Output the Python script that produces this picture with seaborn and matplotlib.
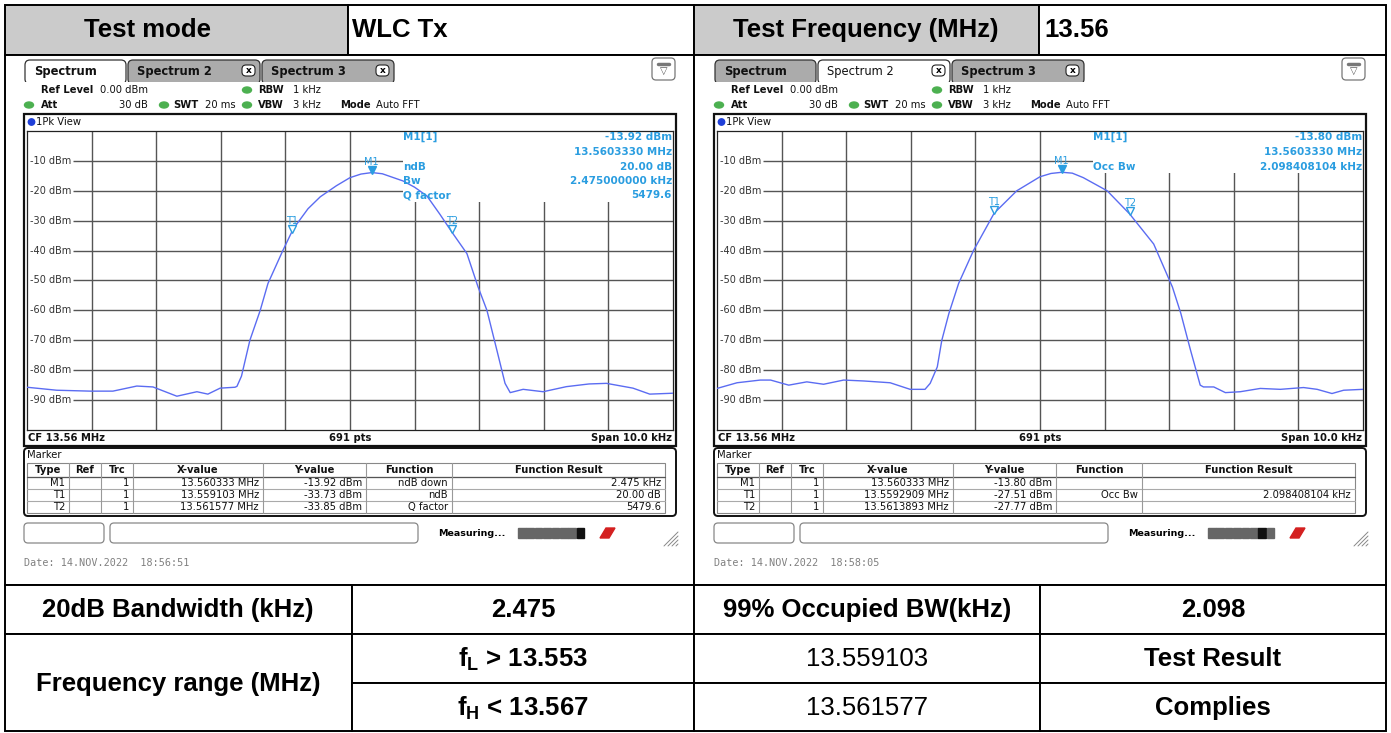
import matplotlib.pyplot as plt
import matplotlib.patches as mpatches
import matplotlib.transforms as mtransforms
import numpy as np
import pandas as pd
import seaborn as sns

# trace readings, offset from CF 13.56 MHz in kHz and level in dBm
left_offset_khz = [-5.0, -4.54, -4.02, -3.67, -3.30, -3.05, -2.68, -2.37, -2.20, -2.01,
                   -1.78, -1.75, -1.68, -1.55, -1.39, -1.27, -1.04, -0.90, -0.82, -0.65,
                   -0.46, -0.21, 0.0, 0.17, 0.34, 0.50, 0.82, 1.00, 1.19, 1.39, 1.58,
                   1.81, 1.98, 2.12, 2.27, 2.40, 2.48, 2.68, 2.99, 3.35, 3.70, 3.97,
                   4.38, 4.64, 5.0]
left_level_dbm = [-85.7, -86.7, -87.0, -87.0, -85.3, -85.6, -88.7, -87.2, -88.0, -86.0,
                  -85.7, -85.4, -82.0, -70.0, -60.0, -51.0, -40.0, -33.7, -31.0, -26.0,
                  -22.0, -18.3, -15.6, -14.4, -13.9, -14.3, -16.7, -18.8, -21.7, -27.8,
                  -33.9, -41.0, -52.0, -60.0, -73.0, -84.4, -87.5, -86.4, -87.2, -85.5,
                  -84.6, -84.4, -86.0, -88.0, -87.7]

right_offset_khz = [-5.0, -4.69, -4.33, -4.17, -3.89, -3.61, -3.35, -3.04, -2.73, -2.32,
                    -2.01, -1.78, -1.70, -1.59, -1.52, -1.41, -1.26, -1.03, -0.71, -0.36,
                    0.0, 0.17, 0.34, 0.50, 0.67, 1.04, 1.39, 1.76, 2.05, 2.18, 2.33,
                    2.48, 2.53, 2.69, 2.87, 3.10, 3.41, 3.72, 4.08, 4.29, 4.52, 4.70, 5.0]
right_level_dbm = [-86.1, -84.2, -83.3, -83.3, -85.0, -83.9, -84.7, -83.3, -83.6, -84.2,
                   -86.4, -86.4, -84.4, -78.9, -70.0, -61.0, -51.0, -40.0, -27.5, -20.0,
                   -15.3, -14.2, -13.8, -14.1, -15.6, -20.0, -27.8, -37.8, -52.2, -61.0,
                   -73.3, -85.0, -85.6, -85.6, -87.5, -87.2, -86.1, -86.4, -85.8, -86.4,
                   -87.8, -86.7, -86.4]

marker_names = ['M1', 'T1', 'T2']
left_marker_mhz = [13.560333, 13.559103, 13.561577]
left_marker_dbm = [-13.92, -33.73, -33.85]
right_marker_mhz = [13.560333, 13.5592909, 13.5613893]
right_marker_dbm = [-13.80, -27.51, -27.77]

left_info_labels = ['M1[1]', '', 'ndB', 'Bw', 'Q factor']
left_info_values = ['-13.92 dBm', '13.5603330 MHz', '20.00 dB', '2.475000000 kHz', '5479.6']
right_info_labels = ['M1[1]', '', 'Occ Bw']
right_info_values = ['-13.80 dBm', '13.5603330 MHz', '2.098408104 kHz']

marker_headers = ['Type', 'Ref', 'Trc', 'X-value', 'Y-value', 'Function', 'Function Result']
left_marker_rows = [
    ['M1', '', '1', '13.560333 MHz', '-13.92 dBm', 'ndB down', '2.475 kHz'],
    ['T1', '', '1', '13.559103 MHz', '-33.73 dBm', 'ndB', '20.00 dB'],
    ['T2', '', '1', '13.561577 MHz', '-33.85 dBm', 'Q factor', '5479.6'],
]
right_marker_rows = [
    ['M1', '', '1', '13.560333 MHz', '-13.80 dBm', '', ''],
    ['T1', '', '1', '13.5592909 MHz', '-27.51 dBm', 'Occ Bw', '2.098408104 kHz'],
    ['T2', '', '1', '13.5613893 MHz', '-27.77 dBm', '', ''],
]
left_date = 'Date: 14.NOV.2022  18:56:51'
right_date = 'Date: 14.NOV.2022  18:58:05'
tab_names = ['Spectrum', 'Spectrum 2', 'Spectrum 3']
y_tick_dbm = [-10, -20, -30, -40, -50, -60, -70, -80, -90]

header_cells = ['Test mode', 'WLC Tx', 'Test Frequency (MHz)', '13.56']
result_row = ['20dB Bandwidth (kHz)', '2.475', '99% Occupied BW(kHz)', '2.098']
range_label = 'Frequency range (MHz)'
limit_low = r'f$_{\mathregular{L}}$ > 13.553'
limit_high = r'f$_{\mathregular{H}}$ < 13.567'
measured_edges = ['13.559103', '13.561577']
verdict = ['Test Result', 'Complies']

CF_MHZ = 13.56
TRACE = '#5b6cf2'
MK = '#2a9de0'
GRID = '#555555'
GREEN = '#4cb050'
TAB_GRAY = '#ababab'

sns.set_style('white')
plt.rcParams['font.family'] = ['DejaVu Sans']
plt.rcParams['text.color'] = 'black'

W, H = 1391, 733
fig = plt.figure(figsize=(W / 100, H / 100), dpi=100)


def px_axes(x0, y0, x1, y1):
    return fig.add_axes([x0 / W, 1 - y1 / H, (x1 - x0) / W, (y1 - y0) / H])


base = px_axes(0, 0, W, H)
base.set_xlim(0, W)
base.set_ylim(H, 0)
base.axis('off')


def cell(x0, y0, x1, y1, fc='white'):
    base.add_patch(mpatches.Rectangle((x0, y0), x1 - x0, y1 - y0, facecolor=fc,
                                      edgecolor='black', lw=1.4))


def rbox(x0, y0, x1, y1, fc='white', ec='#222222', lw=1.0, r=4, ax=None):
    (ax or base).add_patch(mpatches.FancyBboxPatch(
        (x0, y0), x1 - x0, y1 - y0, boxstyle=f'round,pad=0,rounding_size={r}',
        facecolor=fc, edgecolor=ec, lw=lw))


# outer report table
GRAY = '#cbcbcb'
for x0, x1, fc in [(5, 348, GRAY), (348, 694, 'white'), (694, 1039, GRAY), (1039, 1386, 'white')]:
    cell(x0, 5, x1, 55, fc)
cell(5, 55, 694, 585)
cell(694, 55, 1386, 585)
for x0, x1 in [(5, 352), (352, 694), (694, 1040), (1040, 1386)]:
    cell(x0, 585, x1, 634)
cell(5, 634, 352, 731)
for x0, x1 in [(352, 694), (694, 1040), (1040, 1386)]:
    cell(x0, 634, x1, 683)
    cell(x0, 683, x1, 731)

TF = dict(family='Liberation Sans', fontsize=18.5, va='center', color='black')
base.text(148, 30, header_cells[0], ha='center', weight='bold', **TF)
base.text(352, 30, header_cells[1], ha='left', weight='bold', **TF)
base.text(866, 30, header_cells[2], ha='center', weight='bold', **TF)
base.text(1044, 30, header_cells[3], ha='left', weight='bold', **TF)
for xc, s in zip([178, 523, 867, 1213], result_row):
    base.text(xc, 610, s, ha='center', weight='bold', **TF)
base.text(178, 684, range_label, ha='center', weight='bold', **TF)
base.text(523, 659, limit_low, ha='center', weight='bold', **TF)
base.text(523, 708, limit_high, ha='center', weight='bold', **TF)
base.text(867, 659, measured_edges[0], ha='center', **TF)
base.text(867, 708, measured_edges[1], ha='center', **TF)
base.text(1213, 659, verdict[0], ha='center', weight='bold', **TF)
base.text(1213, 708, verdict[1], ha='center', weight='bold', **TF)


def draw_trace(ax, offs, lvls, m_mhz, m_dbm, box_bottom):
    ax.set_xlim(-5, 5)
    ax.set_ylim(-100, 0)
    ax.set_xticks([])
    ax.set_yticks([])
    for s in ax.spines.values():
        s.set_color('#222222')
        s.set_linewidth(0.9)
    ax.vlines(np.arange(-4, 5), -100, 0, colors=GRID, lw=1.0, zorder=1)
    ax.hlines(y_tick_dbm, -4.29, 5, colors=GRID, lw=1.0, zorder=1)
    for v in y_tick_dbm:
        ax.text(-4.95, v, f'{v} dBm', va='center', ha='left', fontsize=7, color='#333333')
    ax.add_patch(mpatches.Rectangle((0.82, box_bottom), 4.18, -box_bottom,
                                    facecolor='white', edgecolor='none', zorder=2))
    df = pd.DataFrame({'offset': offs, 'level': lvls})
    sns.lineplot(data=df, x='offset', y='level', ax=ax, color=TRACE, lw=1.0,
                 estimator=None, zorder=3)
    ax.set_xlabel('')
    ax.set_ylabel('')
    lift = mtransforms.offset_copy(ax.transData, fig=fig, y=3, units='dots')
    for name, f, lv in zip(marker_names, m_mhz, m_dbm):
        x = (f - CF_MHZ) * 1000
        face = MK if name == 'M1' else 'white'
        ax.plot([x], [lv], marker='v', ms=5.5, mfc=face, mec=MK, mew=1.0,
                transform=lift, zorder=5)
        ax.annotate(name, (x, lv), xytext=(0, 6), textcoords='offset pixels',
                    ha='center', va='bottom', fontsize=7, color=MK, zorder=5)


ax_l = px_axes(27, 131, 673, 430)
draw_trace(ax_l, left_offset_khz, left_level_dbm, left_marker_mhz, left_marker_dbm, -23.7)
ax_r = px_axes(717, 131, 1363, 430)
draw_trace(ax_r, right_offset_khz, right_level_dbm, right_marker_mhz, right_marker_dbm, -14.0)

top = px_axes(0, 0, W, H)
top.set_xlim(0, W)
top.set_ylim(H, 0)
top.axis('off')

FS = 7.2


def draw_screen(dx, active, info_labels, info_values, rows, date):
    # tabs
    for i, (x0, x1) in enumerate([(25, 128), (128, 262), (262, 396)]):
        fc = 'white' if i == active else TAB_GRAY
        rbox(x0 + dx, 60, x1 + dx - 2, 84, fc=fc, ec='#333333', lw=0.9, r=5)
        weight = 'bold' if (i != active or dx == 0) else 'normal'
        top.text(x0 + dx + 9, 71, tab_names[i], fontsize=8.3, va='center', ha='left',
                 weight=weight, color='#111111')
        if i > 0:
            rbox(x1 + dx - 20, 65, x1 + dx - 7, 76, fc='white', ec='#222222', lw=0.8, r=4, ax=top)
            top.text(x1 + dx - 13.5, 70.5, 'x', fontsize=6.5, weight='bold', ha='center', va='center')
    base.add_patch(mpatches.Rectangle((24 + dx, 82), 652, 32, facecolor='white', edgecolor='none'))
    rbox(652 + dx, 58, 675 + dx, 80, fc='white', ec='#777777', lw=0.9, r=4)
    top.plot([658 + dx, 669 + dx], [64, 64], color='#777777', lw=2.5)
    top.text(663.5 + dx, 71, '\u25bd', fontsize=7, ha='center', va='center', color='#555555')

    # setting lines
    tt = dict(fontsize=FS, va='center', color='#111111')
    top.text(41 + dx, 90, 'Ref Level', weight='bold', **tt)
    top.text(100 + dx, 90, '0.00 dBm', **tt)
    top.text(41 + dx, 105, 'Att', weight='bold', **tt)
    top.text(148 + dx, 105, '30 dB', ha='right', **tt)
    top.text(173 + dx, 105, 'SWT', weight='bold', **tt)
    top.text(205 + dx, 105, '20 ms', **tt)
    top.text(258 + dx, 90, 'RBW', weight='bold', **tt)
    top.text(293 + dx, 90, '1 kHz', **tt)
    top.text(258 + dx, 105, 'VBW', weight='bold', **tt)
    top.text(293 + dx, 105, '3 kHz', **tt)
    top.text(340 + dx, 105, 'Mode', weight='bold', **tt)
    top.text(376 + dx, 105, 'Auto FFT', **tt)
    for gx, gy in [(29, 105), (164, 105), (247, 90), (247, 105)]:
        top.add_patch(mpatches.Ellipse((gx + dx, gy), 9, 6, color=GREEN))

    # diagram frame
    base.add_patch(mpatches.Rectangle((24 + dx, 114), 652, 332, facecolor='white',
                                      edgecolor='#111111', lw=1.6))
    top.add_patch(mpatches.Circle((31.5 + dx, 122), 3.2, color='#1f3fd8'))
    top.text(36 + dx, 122, '1Pk View', **tt)
    top.text(28 + dx, 438, 'CF 13.56 MHz', weight='bold', **tt)
    top.text(350 + dx, 438, '691 pts', weight='bold', ha='center', **tt)
    top.text(672 + dx, 438, 'Span 10.0 kHz', weight='bold', ha='right', **tt)

    # marker info block
    info_y = [137, 152, 166.5, 181, 195]
    for lab, val, y in zip(info_labels, info_values, info_y):
        if lab:
            top.text(403 + dx, y, lab, fontsize=7.5, weight='bold', color=MK, va='center')
        top.text(672 + dx, y, val, fontsize=7.5, weight='bold', color=MK, va='center', ha='right')

    # marker table
    rbox(24 + dx, 448, 676 + dx, 516, fc='white', ec='#111111', lw=1.4, r=4)
    top.text(27 + dx, 455.5, 'Marker', **tt)
    cols = [27, 69, 101, 133, 263, 366, 452, 665]
    top.add_patch(mpatches.Rectangle((27 + dx, 463), 638, 50, facecolor='none',
                                     edgecolor='#888888', lw=0.8))
    for yl in [477, 489, 501]:
        top.plot([27 + dx, 665 + dx], [yl, yl], color='#aaaaaa', lw=0.8)
    top.plot([27 + dx, 665 + dx], [477, 477], color='#555555', lw=0.9)
    for xc in cols[1:-1]:
        top.plot([xc + dx, xc + dx], [463, 513], color='#999999', lw=0.8)
    for j, hname in enumerate(marker_headers):
        top.text((cols[j] + cols[j + 1]) / 2 + dx, 470, hname, weight='bold', ha='center', **tt)
    for r, row in enumerate(rows):
        for j, val in enumerate(row):
            top.text(cols[j + 1] - 4 + dx, 483 + 12 * r, val, ha='right', **tt)

    # status bar
    rbox(24 + dx, 523, 104 + dx, 543, fc='white', ec='#888888', lw=0.9, r=4)
    rbox(110 + dx, 523, 418 + dx, 543, fc='white', ec='#888888', lw=0.9, r=4)
    top.text(438 + dx, 533, 'Measuring...', weight='bold', fontsize=6.8, va='center')
    for k in range(8):
        shade = '#111111' if k == 7 - active else '#666666'
        top.add_patch(mpatches.Rectangle((518 + dx + k * 8.4, 528), 7.6, 10, color=shade))
    top.add_patch(mpatches.Polygon([[600 + dx, 538], [606 + dx, 528], [615 + dx, 528],
                                    [609 + dx, 538]], color='#d42020'))
    for k in range(4):
        top.plot([664 + dx + 4 * k, 678 + dx], [546, 532 + 4 * k], color='#888888', lw=0.7)

    top.text(24 + dx, 563, date, family='DejaVu Sans Mono', fontsize=7.3,
             color='#808080', va='center')


draw_screen(0, 0, left_info_labels, left_info_values, left_marker_rows, left_date)
draw_screen(690, 1, right_info_labels, right_info_values, right_marker_rows, right_date)

fig.savefig('out.png', dpi=100)
